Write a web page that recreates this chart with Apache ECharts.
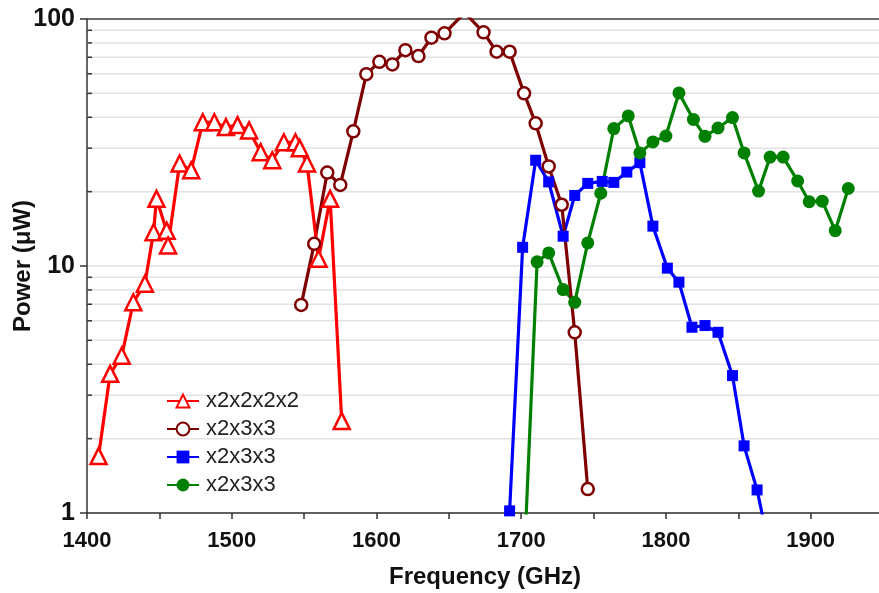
<!DOCTYPE html>
<html>
<head>
<meta charset="utf-8">
<script src="https://cdn.jsdelivr.net/npm/echarts@6/dist/echarts.min.js"></script>
<style>
html,body{margin:0;padding:0;background:#fff;}
#chart{width:879px;height:593px;}
</style>
</head>
<body>
<div id="chart"></div>
<script>
// ---- data ----
const legendLabels = ['x2x2x2x2', 'x2x3x3', 'x2x3x3', 'x2x3x3'];

const redX = [1408, 1416, 1424, 1432, 1440, 1446, 1448, 1455, 1456, 1464, 1472, 1480, 1488, 1496, 1504, 1512, 1520, 1528, 1536, 1544, 1547, 1552, 1560, 1568, 1576];
const redY = [1.70, 3.66, 4.33, 7.13, 8.47, 13.7, 18.7, 13.9, 12.1, 26.0, 24.4, 38.2, 38.2, 36.5, 37.2, 35.4, 28.9, 26.8, 31.7, 31.7, 30.0, 26.0, 10.7, 18.7, 2.36];

const maroonX = [1548, 1557, 1566, 1575, 1584, 1593, 1602, 1611, 1620, 1629, 1638, 1647, 1661, 1674, 1683, 1692, 1702, 1710, 1719, 1728, 1737, 1746];
const maroonY = [6.96, 12.3, 23.9, 21.3, 35.1, 59.8, 67.1, 65.5, 74.8, 70.8, 84.0, 87.5, 106, 88.3, 73.7, 73.7, 50.0, 37.8, 25.3, 17.7, 5.39, 1.25];

const blueX = [1692, 1701, 1710, 1719, 1729, 1737, 1746, 1756, 1764, 1773, 1782, 1791, 1801, 1809, 1818, 1827, 1836, 1846, 1854, 1863, 1868];
const blueY = [1.02, 11.9, 26.8, 21.9, 13.2, 19.3, 21.6, 22.0, 21.8, 24.0, 26.2, 14.5, 9.80, 8.60, 5.65, 5.74, 5.39, 3.60, 1.87, 1.24, 0.90];

const greenX = [1703, 1711, 1719, 1729, 1737, 1746, 1755, 1764, 1774, 1782, 1791, 1800, 1809, 1819, 1827, 1836, 1846, 1854, 1864, 1872, 1881, 1891, 1899, 1908, 1917, 1926];
const greenY = [0.85, 10.4, 11.3, 8.03, 7.13, 12.4, 19.7, 36.0, 40.5, 28.7, 31.8, 33.6, 50.2, 39.2, 33.5, 36.2, 39.9, 28.7, 20.1, 27.6, 27.6, 22.1, 18.2, 18.3, 13.9, 20.6];

const minorY = [2, 3, 4, 5, 6, 7, 8, 9, 20, 30, 40, 50, 60, 70, 80, 90];

const xMin = 1400, xMax = 1950, xInterval = 100;
const yMin = 1, yMax = 100;

// ---- chart ----
const zip = (xs, ys) => xs.map((x, i) => [x, ys[i]]);
const FONT = 'Liberation Sans, Arial, sans-serif';

const chart = echarts.init(document.getElementById('chart'), null, {renderer: 'canvas'});

function lineSeries(id, xs, ys, color, symbol, size, hollow) {
  return {
    name: id,
    type: 'line',
    data: zip(xs, ys),
    symbol: symbol,
    symbolSize: size,
    showAllSymbol: true,
    clip: true,
    lineStyle: {color: color, width: 3.2},
    itemStyle: hollow
      ? {color: '#ffffff', borderColor: color, borderWidth: 2.5}
      : {color: color, borderColor: color, borderWidth: 0},
    color: color,
    emphasis: {disabled: true},
    z: 3
  };
}

const option = {
  animation: false,
  backgroundColor: '#ffffff',
  grid: {
    left: 87, top: 19, width: 796, height: 494,
    show: false,
    containLabel: false,
    outerBoundsMode: 'none'
  },
  legend: {
    orient: 'vertical',
    left: 161, top: 385,
    itemWidth: 32, itemHeight: 16, itemGap: 6,
    data: ['s1', 's2', 's3', 's4'],
    formatter: function (name) { return legendLabels[Number(name.slice(1)) - 1]; },
    textStyle: {fontFamily: FONT, fontSize: 22, color: '#222', padding: [0, 0, 0, 2]}
  },
  xAxis: [{
    type: 'value',
    min: xMin, max: xMax, interval: xInterval,
    name: 'Frequency (GHz)',
    nameLocation: 'middle',
    nameGap: 52,
    nameMoveOverlap: false,
    nameTextStyle: {fontFamily: FONT, fontSize: 24, fontWeight: 'bold', color: '#111'},
    axisLine: {show: true, lineStyle: {color: '#333', width: 1.5}},
    axisTick: {show: true, length: 6, lineStyle: {color: '#333', width: 1.5}},
    minorTick: {show: true, splitNumber: 2, length: 6, lineStyle: {color: '#333', width: 1.5}},
    axisLabel: {
      fontFamily: FONT, fontSize: 22, fontWeight: 'bold', color: '#111', margin: 17,
      formatter: function (v) { return v >= 1950 ? '' : String(v); }
    },
    splitLine: {show: false}
  }, {
    type: 'value',
    position: 'top',
    min: xMin, max: xMax,
    axisLine: {show: true, onZero: false, lineStyle: {color: '#444', width: 1.5}},
    axisTick: {show: false},
    axisLabel: {show: false},
    splitLine: {show: false}
  }],
  yAxis: {
    type: 'log',
    logBase: 10,
    min: yMin, max: yMax,
    name: 'Power (\u03bcW)',
    nameLocation: 'middle',
    nameGap: 52,
    nameMoveOverlap: false,
    nameTextStyle: {fontFamily: FONT, fontSize: 24, fontWeight: 'bold', color: '#111'},
    axisLine: {show: true, lineStyle: {color: '#333', width: 1.5}},
    axisTick: {show: true, length: 7, lineStyle: {color: '#333', width: 1.5}},
    axisLabel: {fontFamily: FONT, fontSize: 25, fontWeight: 'bold', color: '#111', margin: 12},
    splitLine: {show: true, lineStyle: {color: '#e2e2e2', width: 1.5}}
  },
  series: [
    {
      type: 'custom',
      name: 'minor',
      silent: true,
      clip: false,
      z: 1,
      data: minorY.map(v => [xMin, v]),
      encode: {x: 0, y: 1},
      renderItem: function (params, api) {
        const p = api.coord([xMin, api.value(1)]);
        const cs = params.coordSys;
        return {
          type: 'group',
          children: [
            {type: 'line', shape: {x1: cs.x, y1: p[1], x2: cs.x + cs.width, y2: p[1]},
             style: {stroke: '#e2e2e2', lineWidth: 1.5}},
            {type: 'line', shape: {x1: cs.x, y1: p[1], x2: cs.x + 5, y2: p[1]},
             style: {stroke: '#333', lineWidth: 1.5}, z2: 10}
          ]
        };
      }
    },
    lineSeries('s3', blueX, blueY, '#0000ff', 'rect', 11, false),
    lineSeries('s4', greenX, greenY, '#008000', 'circle', 13, false),
    lineSeries('s2', maroonX, maroonY, '#7f0000', 'circle', 12, true),
    lineSeries('s1', redX, redY, '#ff0000', 'triangle', 16, true)
  ]
};

chart.setOption(option);
</script>
</body>
</html>
